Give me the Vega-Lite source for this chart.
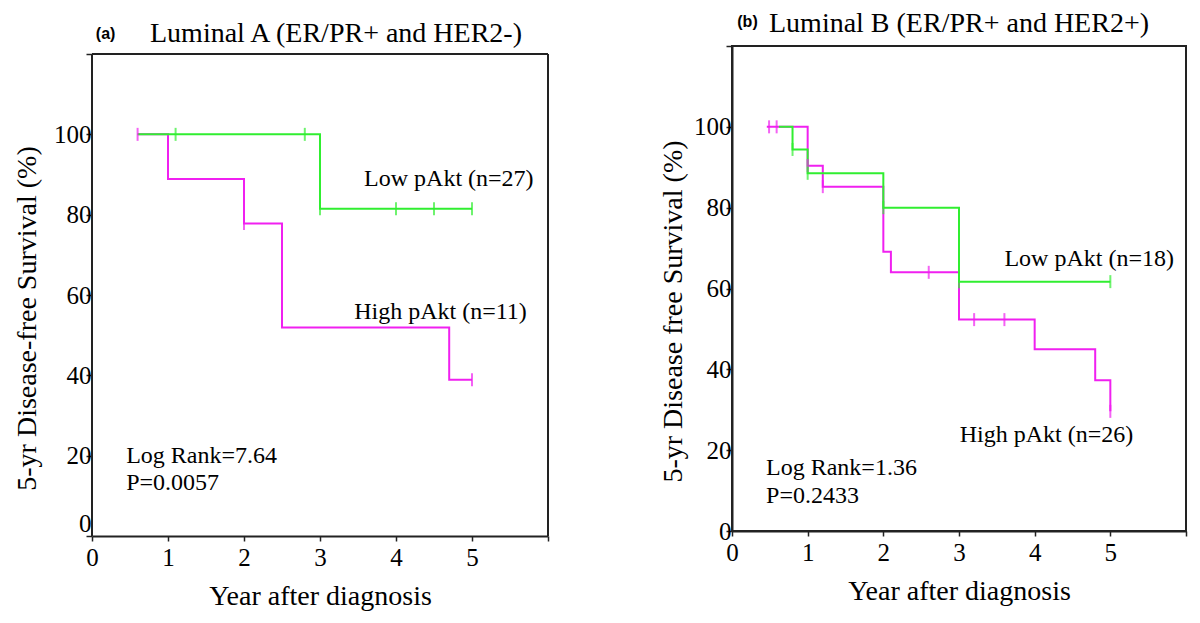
{
  "$schema": "https://vega.github.io/schema/vega-lite/v6.json",
  "background": "white",
  "padding": {"left": 13, "top": 8, "right": 5, "bottom": 5},
  "config": {
    "view": {"stroke": "#222", "strokeWidth": 2},
    "font": "Liberation Serif",
    "axis": {"grid": false, "domainColor": "#222", "domainWidth": 2, "tickColor": "#222", "tickWidth": 1.5, "labelFont": "Liberation Serif", "labelFontSize": 25, "labelColor": "black", "titleFont": "Liberation Serif", "titleFontSize": 28, "titleFontWeight": "normal", "titleColor": "black"},
    "title": {"font": "Liberation Serif", "fontSize": 28, "fontWeight": "normal", "color": "black"}
  },
  "datasets": {
    "a_curves": [
      {"group": "High", "year": 0.6, "surv": 100},
      {"group": "High", "year": 1.0, "surv": 88.9},
      {"group": "High", "year": 2.0, "surv": 77.8},
      {"group": "High", "year": 2.5, "surv": 51.9},
      {"group": "High", "year": 4.7, "surv": 38.9},
      {"group": "High", "year": 5.0, "surv": 38.9},
      {"group": "Low", "year": 0.6, "surv": 100},
      {"group": "Low", "year": 3.0, "surv": 81.5},
      {"group": "Low", "year": 5.0, "surv": 81.5}
    ],
    "a_censor": [
      {"group": "Low", "year": 1.1, "surv": 100},
      {"group": "Low", "year": 2.8, "surv": 100},
      {"group": "Low", "year": 3.0, "surv": 81.5},
      {"group": "Low", "year": 4.0, "surv": 81.5},
      {"group": "Low", "year": 4.5, "surv": 81.5},
      {"group": "Low", "year": 5.0, "surv": 81.5},
      {"group": "High", "year": 0.6, "surv": 100},
      {"group": "High", "year": 2.0, "surv": 77.8},
      {"group": "High", "year": 5.0, "surv": 38.9}
    ],
    "a_text": [
      {"year": 3.58, "surv": 88.8, "label": "Low pAkt (n=27)"},
      {"year": 3.45, "surv": 55.7, "label": "High pAkt (n=11)"},
      {"year": 0.45, "surv": 19.9, "label": "Log Rank=7.64"},
      {"year": 0.45, "surv": 13.2, "label": "P=0.0057"}
    ],
    "a_tag": [{"year": 0.05, "surv": 125.1, "label": "(a)"}],
    "b_curves": [
      {"group": "High", "year": 0.46, "surv": 100},
      {"group": "High", "year": 1.0, "surv": 90.4},
      {"group": "High", "year": 1.2, "surv": 85.2},
      {"group": "High", "year": 2.0, "surv": 69.1},
      {"group": "High", "year": 2.1, "surv": 64.0},
      {"group": "High", "year": 3.0, "surv": 52.3},
      {"group": "High", "year": 4.0, "surv": 45.0},
      {"group": "High", "year": 4.8, "surv": 37.3},
      {"group": "High", "year": 5.0, "surv": 29.6},
      {"group": "Low", "year": 0.62, "surv": 100},
      {"group": "Low", "year": 0.8, "surv": 94.4},
      {"group": "Low", "year": 1.0, "surv": 88.5},
      {"group": "Low", "year": 2.0, "surv": 80.0},
      {"group": "Low", "year": 3.0, "surv": 61.7},
      {"group": "Low", "year": 5.0, "surv": 61.7}
    ],
    "b_censor": [
      {"group": "High", "year": 0.49, "surv": 100},
      {"group": "High", "year": 0.59, "surv": 100},
      {"group": "High", "year": 1.0, "surv": 90.4},
      {"group": "High", "year": 1.2, "surv": 85.2},
      {"group": "High", "year": 2.6, "surv": 64.0},
      {"group": "High", "year": 3.2, "surv": 52.3},
      {"group": "High", "year": 3.6, "surv": 52.3},
      {"group": "High", "year": 5.0, "surv": 29.6},
      {"group": "Low", "year": 0.8, "surv": 94.4},
      {"group": "Low", "year": 1.0, "surv": 88.5},
      {"group": "Low", "year": 2.0, "surv": 80.0},
      {"group": "Low", "year": 3.0, "surv": 61.7},
      {"group": "Low", "year": 5.0, "surv": 61.7}
    ],
    "b_text": [
      {"year": 3.6, "surv": 67.2, "label": "Low pAkt (n=18)"},
      {"year": 3.01, "surv": 23.7, "label": "High pAkt (n=26)"},
      {"year": 0.45, "surv": 15.6, "label": "Log Rank=1.36"},
      {"year": 0.45, "surv": 8.6, "label": "P=0.2433"}
    ],
    "b_tag": [{"year": 0.07, "surv": 126, "label": "(b)"}]
  },
  "spacing": 109,
  "hconcat": [
    {
      "width": 456,
      "height": 490,
      "view": {"stroke": null},
      "title": {"text": "Luminal A (ER/PR+ and HER2-)", "dx": 16, "offset": -22},
      "layer": [
        {
          "data": {"values": [{}]},
          "mark": {"type": "rule", "color": "#222", "strokeWidth": 2},
          "encoding": {"x": {"datum": 0}, "y": {"datum": 0}, "y2": {"datum": 120}}
        },
        {
          "data": {"values": [{}]},
          "mark": {"type": "rule", "color": "#222", "strokeWidth": 2},
          "encoding": {"x": {"datum": 6}, "y": {"datum": 0}, "y2": {"datum": 120}}
        },
        {
          "data": {"values": [{}]},
          "mark": {"type": "rule", "color": "#222", "strokeWidth": 2},
          "encoding": {"y": {"datum": 120}, "x": {"datum": 0}, "x2": {"datum": 6}}
        },
        {
          "data": {"name": "a_curves"},
          "mark": {"type": "line", "interpolate": "step-after", "strokeWidth": 2},
          "encoding": {
            "x": {"field": "year", "type": "quantitative", "scale": {"domain": [0, 6], "nice": false},
              "axis": {"title": "Year after diagnosis", "values": [0, 1, 2, 3, 4, 5, 6], "format": "d", "labelExpr": "datum.value == 6 ? '' : datum.label", "tickSize": 5, "labelPadding": 4, "titlePadding": 12, "labelFlush": false}},
            "y": {"field": "surv", "type": "quantitative", "scale": {"domain": [0, 122], "nice": false},
              "axis": {"title": "5-yr Disease-free Survival (%)", "domain": false, "values": [0, 20, 40, 60, 80, 100, 120], "labelExpr": "datum.value == 120 ? '' : datum.label", "tickSize": 6, "labelPadding": -5, "titleX": -65, "titleY": 272, "titleBaseline": "middle", "labelFlush": true}},
            "color": {"field": "group", "type": "nominal", "scale": {"domain": ["High", "Low"], "range": ["#f020f0", "#30ee30"]}, "legend": null}
          }
        },
        {
          "data": {"name": "a_censor"},
          "mark": {"type": "tick", "orient": "vertical", "size": 13, "thickness": 2},
          "encoding": {
            "x": {"field": "year", "type": "quantitative"},
            "y": {"field": "surv", "type": "quantitative"},
            "color": {"field": "group", "type": "nominal"}
          }
        },
        {
          "data": {"name": "a_text"},
          "mark": {"type": "text", "align": "left", "baseline": "middle", "fontSize": 24, "font": "Liberation Serif", "color": "black"},
          "encoding": {
            "x": {"field": "year", "type": "quantitative"},
            "y": {"field": "surv", "type": "quantitative"},
            "text": {"field": "label"}
          }
        },
        {
          "data": {"name": "a_tag"},
          "mark": {"type": "text", "align": "left", "baseline": "middle", "fontSize": 16, "font": "Liberation Sans", "fontWeight": "bold", "color": "black"},
          "encoding": {
            "x": {"field": "year", "type": "quantitative"},
            "y": {"field": "surv", "type": "quantitative"},
            "text": {"field": "label"}
          }
        }
      ]
    },
    {
      "width": 454,
      "height": 485,
      "title": {"text": "Luminal B (ER/PR+ and HER2+)", "dx": 0, "offset": -24},
      "layer": [
        {
          "data": {"name": "b_curves"},
          "mark": {"type": "line", "interpolate": "step-after", "strokeWidth": 2},
          "encoding": {
            "x": {"field": "year", "type": "quantitative", "scale": {"domain": [0, 6], "nice": false},
              "axis": {"title": "Year after diagnosis", "values": [0, 1, 2, 3, 4, 5, 6], "format": "d", "labelExpr": "datum.value == 6 ? '' : datum.label", "tickSize": 5, "labelPadding": 4, "titlePadding": 12, "labelFlush": false}},
            "y": {"field": "surv", "type": "quantitative", "scale": {"domain": [0, 120], "nice": false},
              "axis": {"title": "5-yr Disease free Survival (%)", "values": [0, 20, 40, 60, 80, 100, 120], "labelExpr": "datum.value == 120 ? '' : datum.label", "tickSize": 6, "labelPadding": -5, "titleX": -59, "titleY": 265, "titleBaseline": "middle", "labelFlush": false}},
            "color": {"field": "group", "type": "nominal", "scale": {"domain": ["High", "Low"], "range": ["#f020f0", "#30ee30"]}, "legend": null}
          }
        },
        {
          "data": {"name": "b_censor"},
          "mark": {"type": "tick", "orient": "vertical", "size": 13, "thickness": 2},
          "encoding": {
            "x": {"field": "year", "type": "quantitative"},
            "y": {"field": "surv", "type": "quantitative"},
            "color": {"field": "group", "type": "nominal"}
          }
        },
        {
          "data": {"name": "b_text"},
          "mark": {"type": "text", "align": "left", "baseline": "middle", "fontSize": 24, "font": "Liberation Serif", "color": "black"},
          "encoding": {
            "x": {"field": "year", "type": "quantitative"},
            "y": {"field": "surv", "type": "quantitative"},
            "text": {"field": "label"}
          }
        },
        {
          "data": {"name": "b_tag"},
          "mark": {"type": "text", "align": "left", "baseline": "middle", "fontSize": 16, "font": "Liberation Sans", "fontWeight": "bold", "color": "black"},
          "encoding": {
            "x": {"field": "year", "type": "quantitative"},
            "y": {"field": "surv", "type": "quantitative"},
            "text": {"field": "label"}
          }
        }
      ]
    }
  ]
}
